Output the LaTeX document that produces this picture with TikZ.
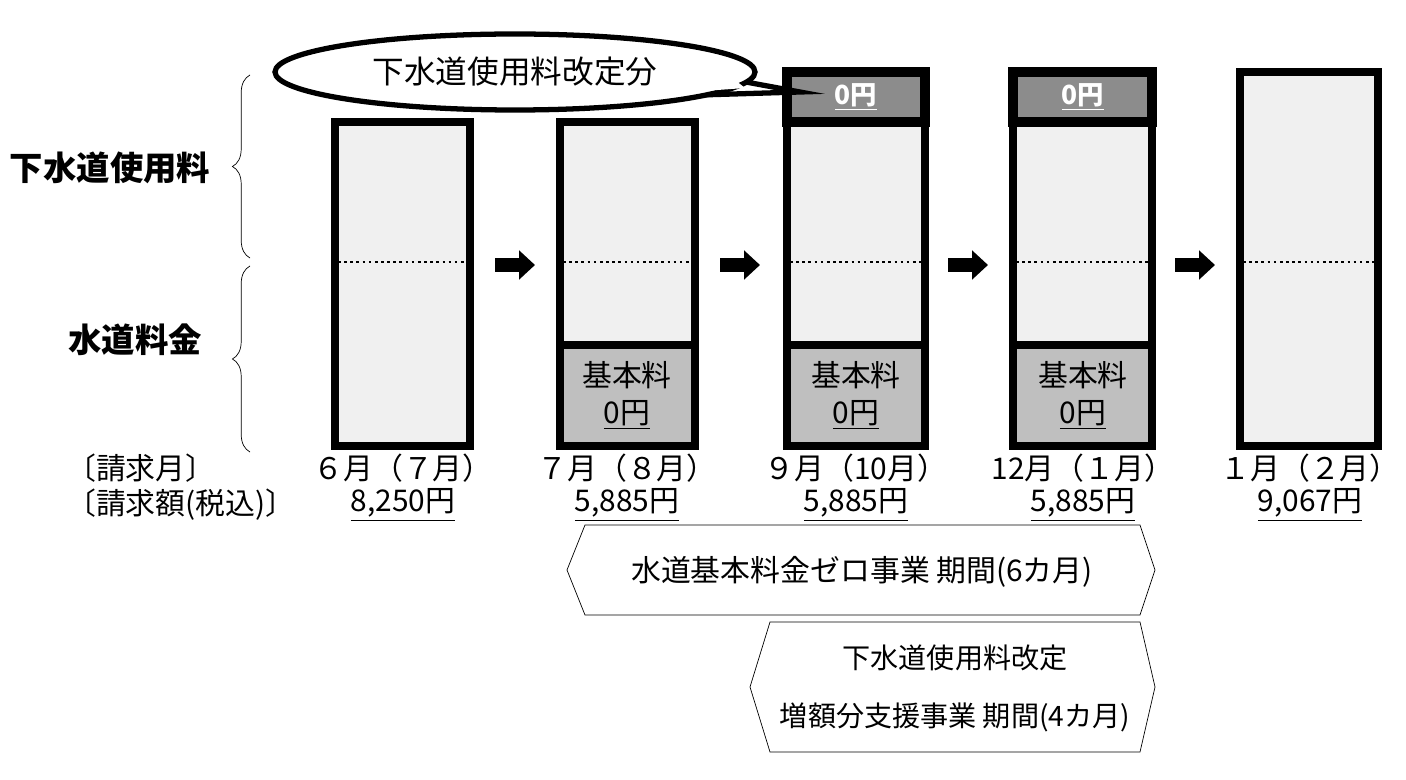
\documentclass[tikz,border=0pt]{standalone}
\usepackage{fontspec}
\setmainfont{Noto Sans CJK JP}
\usetikzlibrary{shapes.geometric,decorations.pathreplacing,arrows.meta}
\tikzset{
  col/.style={line width=5pt, fill=black!6},
  base/.style={line width=5pt, fill=black!25},
  topcap/.style={line width=6pt, fill=black!45},
  nextarrow/.style={-{Triangle[length=9pt,width=16pt]}, line width=8pt},
  hexa/.style={draw, thin}
}
\begin{document}
\begin{tikzpicture}[x=0.02cm,y=-0.02cm]
  \useasboundingbox (0,0) rectangle (1406,780);
  %%%%% COLUMNS %%%%%
  \draw[col] (335,122) rectangle (470,446);
  \draw[col] (560,122) rectangle (695,446);
  \draw[base] (560,345) rectangle (695,446);
  \draw[col] (787,122) rectangle (925,446);
  \draw[base] (787,345) rectangle (925,446);
  \draw[topcap] (787,72) rectangle (925,122);
  \draw[col] (1013,122) rectangle (1152,446);
  \draw[base] (1013,345) rectangle (1152,446);
  \draw[topcap] (1013,72) rectangle (1152,122);
  \draw[col] (1240,72) rectangle (1378,446);
  \foreach \a/\b in {335/470,560/695,787/925,1013/1152,1240/1378}
    \draw[line width=1.5pt, dotted] (\a+3,262) -- (\b-3,262);
  %%%%% LABELS IN BOXES %%%%%
  \foreach \x/\n in {627/a,856/b,1083/c}
    \node[align=center, font=\fontsize{17}{21}\selectfont] (kh\n) at (\x,395) {基本料\\\underline{0円}};
  \node[white, font=\bfseries\fontsize{15}{18}\selectfont] (zb) at (856,97) {\underline{0円}};
  \node[white, font=\bfseries\fontsize{15}{18}\selectfont] (zc) at (1083,97) {\underline{0円}};
  %%%%% ARROWS %%%%%
  \foreach \x in {495,720,948,1175}
    \draw[nextarrow] (\x,265) -- (\x+40,265);
  %%%%% LEFT %%%%%
  \node[font=\bfseries\fontsize{19}{23}\selectfont] (ges) at (110,168) {下水道使用料};
  \node[font=\bfseries\fontsize{19}{23}\selectfont] (sui) at (135,340) {水道料金};
  \draw[decorate, decoration={brace, amplitude=10pt, mirror}] (250,75) -- (250,258);
  \draw[decorate, decoration={brace, amplitude=10pt, mirror}] (250,266) -- (250,452);
  \node[anchor=west, font=\fontsize{17}{20}\selectfont] (tm) at (60,468) {〔請求月〕};
  \node[anchor=west, font=\fontsize{17}{20}\selectfont] (ta) at (60,505) {〔請求額(税込)〕};
  \foreach \x/\m/\v in {403/６月（７月）/8{,}250円,627/７月（８月）/5{,}885円,856/９月（10月）/5{,}885円,1083/12月（１月）/5{,}885円,1310/１月（２月）/9{,}067円}{
    \node[font=\fontsize{17}{20}\selectfont] at (\x,468) {\m};
    \node[font=\fontsize{17}{20}\selectfont] at (\x,505) {\underline{\v}};
  }
  %%%%% CALLOUT %%%%%
  \draw[line width=3pt, fill=white] (700,95) -- (800,92) -- (735,80);
  \draw[line width=3pt, fill=white] (515,72) ellipse (240 and 38);
  \fill[white] (690,92) -- (735,80) -- (745,88) -- cycle;
  \node[font=\fontsize{18}{22}\selectfont] (cl) at (515,72) {下水道使用料改定分};
  %%%%% PERIODS %%%%%
  \draw[hexa] (585,525) -- (1140,525) -- (1155,570) -- (1140,615) -- (585,615) -- (567,570) -- cycle;
  \node[font=\fontsize{17}{20}\selectfont] (p1) at (862,572) {水道基本料金ゼロ事業\ 期間(6カ月)};
  \draw[hexa] (770,622) -- (1140,622) -- (1155,687) -- (1140,752) -- (770,752) -- (750,687) -- cycle;
  \node[align=center, font=\fontsize{16}{33}\selectfont] (p2) at (955,688) {下水道使用料改定\\増額分支援事業\ 期間(4カ月)};
\end{tikzpicture}
\end{document}
